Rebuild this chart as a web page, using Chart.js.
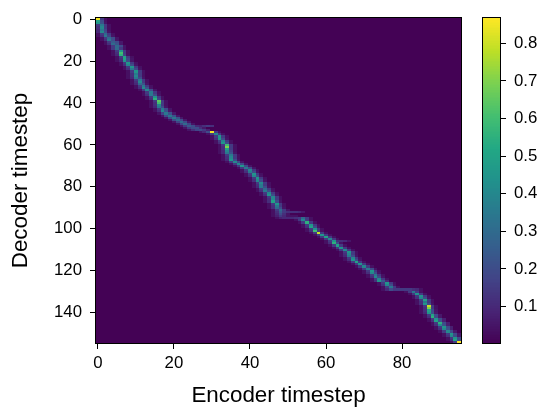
<!DOCTYPE html>
<html>
<head>
<meta charset="utf-8">
<script src="https://cdn.jsdelivr.net/npm/chart.js@4.4.1/dist/chart.umd.min.js"></script>
<style>
  body { margin: 0; background: #fff; }
  #wrap { position: relative; width: 541px; height: 407px; }
  #wrap canvas { position: absolute; left: 0; top: 0; }
</style>
</head>
<body>
<div id="wrap">
  <canvas id="heatmap" width="541" height="407"></canvas>
  <canvas id="colorbar" width="541" height="407"></canvas>
</div>
<script>
// grid size
const encoderSteps = 96;
const decoderSteps = 155;
const xTicks = [0, 20, 40, 60, 80];
const yTicks = [0, 20, 40, 60, 80, 100, 120, 140];
const barTicks = [0.1, 0.2, 0.3, 0.4, 0.5, 0.6, 0.7, 0.8];
const valueMin = 0.003;
const valueMax = 0.867;
const floorValue = 0.006;

// one entry per decoder step: [first encoder column, attention weights...]
const alignRows = [
  [0, 0.85, 0.15, 0.04],
  [0, 0.5, 0.2, 0.04],
  [0, 0.45, 0.22, 0.05],
  [0, 0.15, 0.35, 0.15, 0.04],
  [0, 0.12, 0.4, 0.15, 0.04],
  [0, 0.1, 0.35, 0.18, 0.04],
  [0, 0.1, 0.4, 0.2, 0.05],
  [0, 0.04, 0.15, 0.3, 0.15, 0.04],
  [0, 0.04, 0.12, 0.35, 0.18, 0.05],
  [1, 0.04, 0.15, 0.3, 0.2, 0.05],
  [1, 0.04, 0.12, 0.35, 0.2, 0.05],
  [2, 0.04, 0.15, 0.25, 0.2, 0.06],
  [2, 0.04, 0.12, 0.3, 0.22, 0.06],
  [3, 0.04, 0.15, 0.3, 0.2, 0.05],
  [3, 0.04, 0.15, 0.3, 0.15, 0.05],
  [4, 0.04, 0.15, 0.45, 0.15, 0.04],
  [4, 0.04, 0.12, 0.6, 0.15, 0.04],
  [4, 0.04, 0.1, 0.55, 0.18, 0.04],
  [5, 0.04, 0.15, 0.5, 0.15, 0.04],
  [5, 0.04, 0.12, 0.5, 0.18, 0.05],
  [5, 0.04, 0.1, 0.45, 0.2, 0.05],
  [6, 0.04, 0.15, 0.45, 0.15, 0.04],
  [6, 0.04, 0.12, 0.4, 0.2, 0.05],
  [7, 0.04, 0.15, 0.45, 0.15, 0.04],
  [7, 0.04, 0.12, 0.35, 0.2, 0.05],
  [8, 0.04, 0.15, 0.45, 0.15, 0.04],
  [8, 0.04, 0.12, 0.35, 0.15, 0.04],
  [8, 0.04, 0.12, 0.4, 0.15, 0.04],
  [8, 0.04, 0.1, 0.35, 0.2, 0.05],
  [9, 0.04, 0.15, 0.35, 0.15, 0.04],
  [9, 0.04, 0.12, 0.4, 0.15, 0.04],
  [9, 0.04, 0.1, 0.3, 0.22, 0.05],
  [10, 0.04, 0.15, 0.35, 0.15, 0.04],
  [10, 0.04, 0.12, 0.4, 0.22, 0.05],
  [11, 0.04, 0.15, 0.4, 0.2, 0.05],
  [12, 0.04, 0.15, 0.35, 0.15, 0.04],
  [12, 0.04, 0.12, 0.35, 0.2, 0.05],
  [13, 0.04, 0.15, 0.45, 0.15, 0.04],
  [13, 0.04, 0.12, 0.55, 0.18, 0.04],
  [14, 0.04, 0.15, 0.65, 0.15, 0.04],
  [14, 0.04, 0.12, 0.6, 0.15, 0.04],
  [14, 0.04, 0.12, 0.4, 0.15, 0.04],
  [14, 0.04, 0.1, 0.35, 0.2, 0.05],
  [15, 0.04, 0.15, 0.35, 0.2, 0.05],
  [15, 0.04, 0.12, 0.4, 0.22, 0.06],
  [16, 0.05, 0.18, 0.35, 0.22, 0.06],
  [17, 0.05, 0.2, 0.35, 0.22, 0.06],
  [18, 0.05, 0.2, 0.35, 0.22, 0.06],
  [19, 0.05, 0.2, 0.3, 0.2, 0.06],
  [20, 0.05, 0.18, 0.3, 0.2, 0.06],
  [21, 0.05, 0.18, 0.3, 0.18, 0.05],
  [22, 0.05, 0.15, 0.25, 0.2, 0.1, 0.08, 0.12, 0.15, 0.12],
  [23, 0.05, 0.15, 0.2, 0.2, 0.12, 0.06],
  [24, 0.05, 0.12, 0.18, 0.2, 0.15, 0.08],
  [27, 0.05, 0.1, 0.2, 0.85, 0.15, 0.04],
  [29, 0.04, 0.15, 0.4, 0.15, 0.04],
  [30, 0.04, 0.15, 0.45, 0.15, 0.04],
  [30, 0.04, 0.12, 0.45, 0.2, 0.05],
  [31, 0.04, 0.15, 0.4, 0.15, 0.04],
  [31, 0.04, 0.12, 0.45, 0.2, 0.04],
  [32, 0.04, 0.15, 0.6, 0.15, 0.04],
  [32, 0.04, 0.12, 0.7, 0.15, 0.04],
  [32, 0.04, 0.12, 0.5, 0.15, 0.04],
  [32, 0.04, 0.1, 0.4, 0.18, 0.04],
  [32, 0.04, 0.1, 0.35, 0.22, 0.05],
  [33, 0.04, 0.15, 0.35, 0.15, 0.04],
  [33, 0.04, 0.12, 0.4, 0.15, 0.04],
  [33, 0.04, 0.1, 0.45, 0.2, 0.05],
  [34, 0.04, 0.15, 0.4, 0.2, 0.05],
  [35, 0.04, 0.15, 0.4, 0.2, 0.05],
  [36, 0.04, 0.15, 0.45, 0.2, 0.05],
  [37, 0.04, 0.15, 0.35, 0.2, 0.05],
  [38, 0.04, 0.15, 0.4, 0.15, 0.04],
  [38, 0.04, 0.12, 0.35, 0.2, 0.05],
  [39, 0.04, 0.15, 0.45, 0.15, 0.04],
  [39, 0.04, 0.12, 0.4, 0.2, 0.05],
  [40, 0.04, 0.15, 0.45, 0.15, 0.04],
  [40, 0.04, 0.12, 0.4, 0.2, 0.05],
  [41, 0.04, 0.15, 0.4, 0.15, 0.04],
  [41, 0.04, 0.12, 0.35, 0.15, 0.04],
  [41, 0.04, 0.1, 0.35, 0.2, 0.05],
  [42, 0.04, 0.15, 0.3, 0.15, 0.04],
  [42, 0.04, 0.12, 0.35, 0.2, 0.05],
  [43, 0.04, 0.15, 0.4, 0.15, 0.04],
  [43, 0.04, 0.12, 0.45, 0.2, 0.05],
  [44, 0.04, 0.15, 0.4, 0.15, 0.04],
  [44, 0.04, 0.12, 0.4, 0.15, 0.04],
  [44, 0.04, 0.12, 0.5, 0.2, 0.05],
  [45, 0.04, 0.15, 0.45, 0.15, 0.04],
  [45, 0.04, 0.12, 0.35, 0.15, 0.04],
  [45, 0.04, 0.12, 0.3, 0.2, 0.05],
  [46, 0.04, 0.15, 0.3, 0.15, 0.05],
  [46, 0.04, 0.12, 0.25, 0.15, 0.12, 0.12, 0.12, 0.1, 0.06],
  [46, 0.04, 0.1, 0.2, 0.12, 0.05],
  [46, 0.04, 0.08, 0.15, 0.1, 0.05, 0.04, 0.04],
  [47, 0.04, 0.08, 0.1, 0.1, 0.1, 0.12, 0.15, 0.3, 0.15, 0.04],
  [52, 0.04, 0.15, 0.4, 0.15, 0.04],
  [53, 0.04, 0.15, 0.55, 0.15, 0.04],
  [54, 0.04, 0.15, 0.45, 0.15, 0.04],
  [54, 0.04, 0.12, 0.5, 0.2, 0.05],
  [55, 0.04, 0.15, 0.45, 0.15, 0.04],
  [55, 0.04, 0.12, 0.6, 0.15, 0.04],
  [56, 0.04, 0.15, 0.8, 0.15, 0.04],
  [57, 0.04, 0.15, 0.45, 0.15, 0.04],
  [58, 0.04, 0.15, 0.5, 0.15, 0.04],
  [59, 0.04, 0.15, 0.4, 0.15, 0.04],
  [60, 0.04, 0.15, 0.45, 0.12, 0.12, 0.1, 0.05],
  [60, 0.04, 0.12, 0.55, 0.2, 0.05],
  [61, 0.04, 0.15, 0.5, 0.15, 0.04],
  [62, 0.04, 0.15, 0.45, 0.15, 0.04],
  [63, 0.04, 0.15, 0.4, 0.15, 0.04],
  [64, 0.04, 0.15, 0.45, 0.15, 0.04],
  [64, 0.04, 0.12, 0.4, 0.15, 0.04],
  [64, 0.04, 0.1, 0.35, 0.2, 0.05],
  [65, 0.04, 0.15, 0.4, 0.15, 0.04],
  [65, 0.04, 0.12, 0.45, 0.2, 0.05],
  [66, 0.04, 0.15, 0.5, 0.15, 0.04],
  [67, 0.04, 0.15, 0.45, 0.15, 0.04],
  [68, 0.04, 0.15, 0.4, 0.15, 0.04],
  [69, 0.04, 0.15, 0.35, 0.2, 0.05],
  [70, 0.04, 0.15, 0.45, 0.15, 0.04],
  [70, 0.04, 0.12, 0.4, 0.2, 0.05],
  [71, 0.04, 0.15, 0.35, 0.15, 0.04],
  [71, 0.04, 0.12, 0.4, 0.2, 0.05],
  [72, 0.04, 0.15, 0.4, 0.15, 0.04],
  [72, 0.04, 0.12, 0.45, 0.25, 0.1],
  [74, 0.04, 0.15, 0.45, 0.15, 0.04],
  [74, 0.04, 0.12, 0.4, 0.2, 0.05],
  [75, 0.04, 0.15, 0.35, 0.15, 0.04],
  [75, 0.04, 0.1, 0.2, 0.15, 0.15, 0.15, 0.15, 0.15, 0.12, 0.1, 0.04],
  [81, 0.04, 0.15, 0.35, 0.15, 0.04],
  [82, 0.04, 0.15, 0.45, 0.15, 0.04],
  [83, 0.04, 0.15, 0.45, 0.15, 0.04],
  [83, 0.04, 0.12, 0.4, 0.2, 0.05],
  [84, 0.04, 0.15, 0.5, 0.15, 0.04],
  [84, 0.04, 0.12, 0.35, 0.15, 0.04],
  [84, 0.04, 0.12, 0.45, 0.2, 0.05],
  [85, 0.04, 0.15, 0.8, 0.15, 0.04],
  [85, 0.04, 0.12, 0.7, 0.15, 0.04],
  [85, 0.04, 0.12, 0.5, 0.2, 0.05],
  [85, 0.04, 0.1, 0.45, 0.22, 0.06],
  [86, 0.04, 0.15, 0.5, 0.2, 0.06],
  [86, 0.04, 0.12, 0.55, 0.2, 0.06],
  [87, 0.04, 0.15, 0.45, 0.2, 0.08],
  [87, 0.04, 0.12, 0.5, 0.22, 0.08],
  [88, 0.04, 0.15, 0.55, 0.2, 0.08],
  [88, 0.04, 0.12, 0.4, 0.22, 0.08],
  [89, 0.04, 0.15, 0.45, 0.2, 0.08],
  [89, 0.04, 0.12, 0.4, 0.22, 0.08],
  [90, 0.04, 0.15, 0.4, 0.2, 0.06],
  [91, 0.04, 0.15, 0.45, 0.2, 0.06],
  [91, 0.04, 0.12, 0.4, 0.2, 0.06],
  [92, 0.04, 0.15, 0.45, 0.2],
  [92, 0.04, 0.12, 0.5, 0.2],
  [93, 0.04, 0.15, 0.87]
];

// viridis reference colours at 0, 0.1, ... 1
const viridis = [
  "#440154", "#482475", "#414487", "#355f8d", "#2a788e", "#21918c",
  "#22a884", "#44bf70", "#7ad151", "#bddf26", "#fde725"
];

const FONT = "'Liberation Sans', Arial, sans-serif";

function hexRgb(h) {
  return [1, 3, 5].map((i) => parseInt(h.slice(i, i + 2), 16));
}
const viridisRgb = viridis.map(hexRgb);

function colorFor(v) {
  let t = (v - valueMin) / (valueMax - valueMin);
  t = Math.max(0, Math.min(1, t));
  const pos = t * (viridisRgb.length - 1);
  const i = Math.min(Math.floor(pos), viridisRgb.length - 2);
  const f = pos - i;
  const a = viridisRgb[i], b = viridisRgb[i + 1];
  const c = a.map((x, k) => Math.round(x + (b[k] - x) * f));
  return `rgb(${c[0]},${c[1]},${c[2]})`;
}

// build the cell list from the rows
const cells = [];
for (let r = 0; r < decoderSteps; r++) {
  const row = new Array(encoderSteps).fill(floorValue);
  const entry = alignRows[r];
  if (entry) {
    const start = entry[0];
    entry.slice(1).forEach((w, k) => {
      const c = start + k;
      if (c >= 0 && c < encoderSteps) row[c] = Math.max(row[c], w);
    });
  }
  row.forEach((v, c) => cells.push({ x: c, y: r, v: v }));
}

const frame = {
  id: "frame",
  afterDraw(chart) {
    const { ctx, chartArea: a } = chart;
    ctx.save();
    ctx.strokeStyle = "#000";
    ctx.lineWidth = 1;
    ctx.strokeRect(Math.round(a.left) - 0.5, Math.round(a.top) - 0.5,
      Math.round(a.right - a.left) + 1, Math.round(a.bottom - a.top) + 1);
    ctx.restore();
  },
};

const heatCells = {
  id: "heatCells",
  beforeDatasetsDraw(chart) {
    const { ctx } = chart;
    const xs = chart.scales.x, ys = chart.scales.y;
    ctx.save();
    chart.data.datasets[0].data.forEach((d) => {
      const x0 = Math.round(xs.getPixelForValue(d.x - 0.5));
      const x1 = Math.round(xs.getPixelForValue(d.x + 0.5));
      const y0 = Math.round(ys.getPixelForValue(d.y - 0.5));
      const y1 = Math.round(ys.getPixelForValue(d.y + 0.5));
      ctx.fillStyle = colorFor(d.v);
      ctx.fillRect(x0, y0, x1 - x0, y1 - y0);
    });
    ctx.restore();
  },
};

const tickFont = { family: FONT, size: 16.8 };
const titleFont = { family: FONT, size: 22.4, lineHeight: 1 };
const axisGrid = {
  display: true, drawOnChartArea: false, drawTicks: true,
  tickLength: 6, color: "#000", lineWidth: 1,
};

new Chart(document.getElementById("heatmap").getContext("2d"), {
  type: "scatter",
  data: { datasets: [{ data: cells, pointRadius: 0, pointHoverRadius: 0 }] },
  options: {
    responsive: false,
    animation: false,
    devicePixelRatio: 1,
    events: [],
    layout: { padding: { left: 0, right: 80, top: 11, bottom: 0 } },
    plugins: { legend: { display: false }, tooltip: { enabled: false } },
    scales: {
      x: {
        type: "linear",
        min: -0.5,
        max: encoderSteps - 0.5,
        afterBuildTicks: (s) => { s.ticks = xTicks.map((v) => ({ value: v })); },
        afterFit: (s) => { s.height = 64; },
        grid: axisGrid,
        border: { display: false },
        ticks: { color: "#000", font: tickFont, padding: 4, maxRotation: 0 },
        title: {
          display: true, text: "Encoder timestep", color: "#000",
          font: titleFont, padding: { top: 0, bottom: 0 },
        },
      },
      y: {
        type: "linear",
        reverse: true,
        min: -0.5,
        max: decoderSteps - 0.5,
        afterBuildTicks: (s) => { s.ticks = yTicks.map((v) => ({ value: v })); },
        afterFit: (s) => { s.width = 96; },
        grid: axisGrid,
        border: { display: false },
        ticks: { color: "#000", font: tickFont, padding: 8 },
        title: {
          display: true, text: "Decoder timestep", color: "#000",
          font: titleFont, padding: { top: 10, bottom: 0 },
        },
      },
    },
  },
  plugins: [heatCells, frame],
});

// Colorbar
const colorStrip = {
  id: "colorStrip",
  beforeDatasetsDraw(chart) {
    const { ctx, chartArea: a } = chart;
    const ys = chart.scales.y;
    ctx.save();
    const steps = 200;
    for (let i = 0; i < steps; i++) {
      const v0 = valueMin + ((valueMax - valueMin) * i) / steps;
      const v1 = valueMin + ((valueMax - valueMin) * (i + 1)) / steps;
      const yTop = ys.getPixelForValue(v1);
      const yBot = ys.getPixelForValue(v0);
      ctx.fillStyle = colorFor((v0 + v1) / 2);
      ctx.fillRect(a.left, Math.floor(yTop), a.right - a.left, Math.ceil(yBot) - Math.floor(yTop));
    }
    ctx.restore();
  },
};

new Chart(document.getElementById("colorbar").getContext("2d"), {
  type: "bar",
  data: { labels: [""], datasets: [{ data: [] }] },
  options: {
    responsive: false,
    animation: false,
    devicePixelRatio: 1,
    events: [],
    layout: { padding: { left: 483, right: 0, top: 11, bottom: 64 } },
    plugins: { legend: { display: false }, tooltip: { enabled: false } },
    scales: {
      x: { display: false },
      y: {
        position: "right",
        min: valueMin,
        max: valueMax,
        afterBuildTicks: (s) => { s.ticks = barTicks.map((v) => ({ value: v })); },
        afterFit: (s) => { s.width = 41; },
        grid: axisGrid,
        border: { display: false },
        ticks: {
          color: "#000", font: tickFont, padding: 8,
          callback: (v) => Number(v).toFixed(1),
        },
      },
    },
  },
  plugins: [colorStrip, frame],
});
</script>
</body>
</html>
